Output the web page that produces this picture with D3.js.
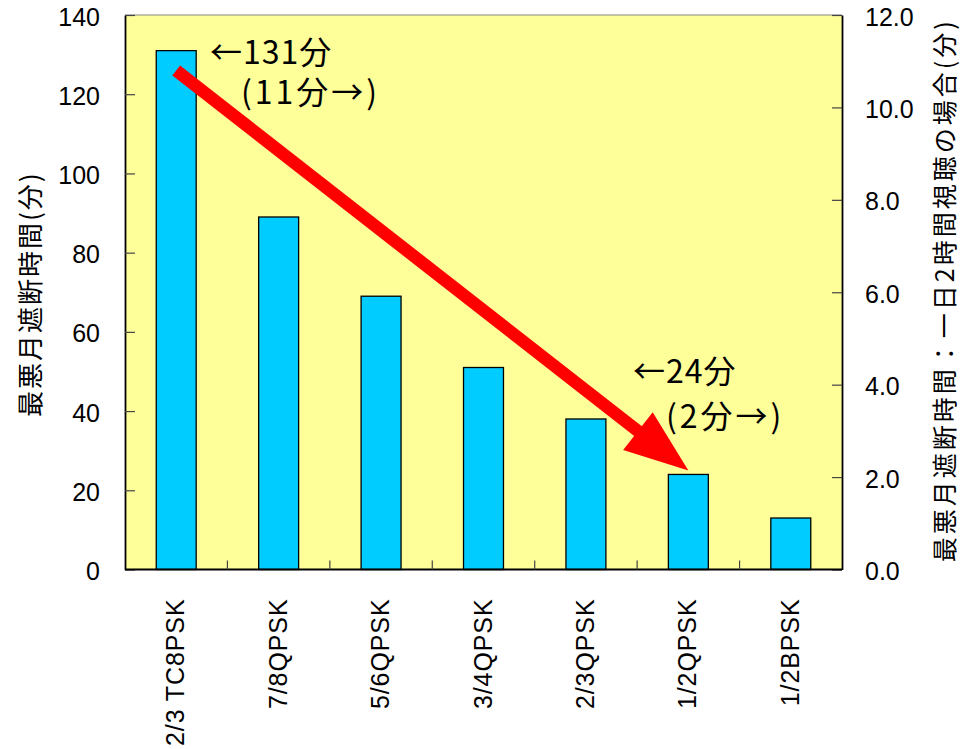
<!DOCTYPE html>
<html>
<head>
<meta charset="utf-8">
<script src="https://cdn.jsdelivr.net/npm/d3@7/dist/d3.min.js"></script>
<style>
  html, body { margin: 0; padding: 0; background: #fff; }
  svg { display: block; }
  .num { font-family: "Liberation Sans", Arial, sans-serif; }
  .jp { font-family: "Noto Sans CJK JP", "Noto Sans", sans-serif; }
</style>
</head>
<body>
<svg id="chart" width="960" height="749"></svg>
<script>
// Modulation / coding schemes along the x axis
const categories = ["2/3 TC8PSK", "7/8QPSK", "5/6QPSK", "3/4QPSK", "2/3QPSK", "1/2QPSK", "1/2BPSK"];
// Worst-month outage time (minutes)
const outageMinutes = [131, 89, 69, 51, 38, 24, 13];
// Axis ticks
const leftTicks = [0, 20, 40, 60, 80, 100, 120, 140];
const rightTicks = [0, 2, 4, 6, 8, 10, 12];
// Trend arrow endpoints: [category index, value]
const arrowFrom = [0, 126];
const arrowTo = [5, 25];
// Callout texts
const callouts = [
  { text1: "←131分", text2: "(11分→)" },
  { text1: "←24分", text2: "(2分→)" }
];

const svg = d3.select("#chart");
const margin = { left: 125, right: 118, top: 15, bottom: 180 };
const W = 960, H = 749;
const x0 = margin.left, x1 = W - margin.right;
const y0 = H - margin.bottom + 0.5, y1 = margin.top;

const x = d3.scaleBand().domain(categories).range([x0, x1]).paddingInner(0.61).paddingOuter(0.305);
const xc = d3.scaleBand().domain(categories).range([x0, x1]);
const y = d3.scaleLinear().domain([0, 140]).range([y0, y1]);
const yR = d3.scaleLinear().domain([0, 12]).range([y0, y1]);

// plot background
svg.append("rect").attr("x", x0).attr("y", y1).attr("width", x1 - x0).attr("height", y0 - y1)
  .attr("fill", "#FFFF99");

// bars
svg.append("g").selectAll("rect").data(outageMinutes).join("rect")
  .attr("x", (d, i) => x(categories[i]))
  .attr("y", d => y(d))
  .attr("width", x.bandwidth())
  .attr("height", d => y(0) - y(d))
  .attr("fill", "#00CCFF")
  .attr("stroke", "#000")
  .attr("stroke-width", 1.3);

// top frame edge
svg.append("line").attr("x1", x0).attr("x2", x1).attr("y1", y1).attr("y2", y1)
  .attr("stroke", "#888").attr("stroke-width", 1.2);

// left axis
const gL = svg.append("g").attr("transform", `translate(${x0},0)`)
  .call(d3.axisLeft(y).tickValues(leftTicks).tickSize(-10).tickPadding(25).tickSizeOuter(0));
gL.select(".domain").attr("stroke", "#000").attr("stroke-width", 1.8);
gL.selectAll(".tick line").attr("stroke", "#444").attr("stroke-width", 1.2);
gL.selectAll(".tick text").attr("class", "num").attr("font-size", 25).attr("fill", "#000").attr("dy", "0.4em");

// right axis
const gR = svg.append("g").attr("transform", `translate(${x1},0)`)
  .call(d3.axisRight(yR).tickValues(rightTicks).tickFormat(d3.format(".1f")).tickSize(-10).tickPadding(23).tickSizeOuter(0));
gR.select(".domain").attr("stroke", "#000").attr("stroke-width", 1.8);
gR.selectAll(".tick line").attr("stroke", "#444").attr("stroke-width", 1.2);
gR.selectAll(".tick text").attr("class", "num").attr("font-size", 25).attr("fill", "#000").attr("dy", "0.4em");

// bottom axis: ticks at category boundaries, labels rotated
svg.append("line").attr("x1", x0).attr("x2", x1).attr("y1", y0).attr("y2", y0)
  .attr("stroke", "#000").attr("stroke-width", 2);
svg.append("g").selectAll("line").data(categories.slice(1)).join("line")
  .attr("x1", d => xc(d)).attr("x2", d => xc(d))
  .attr("y1", y0).attr("y2", y0 - 9)
  .attr("stroke", "#444").attr("stroke-width", 1.2);
svg.append("g").selectAll("text").data(categories).join("text")
  .attr("class", "num")
  .attr("transform", d => `translate(${xc(d) + xc.bandwidth() / 2 + 8},${y0 + 29}) rotate(-90)`)
  .attr("text-anchor", "end")
  .attr("font-size", 25)
  .attr("letter-spacing", 0.9)
  .text(d => d);

// axis titles
svg.append("text").attr("class", "jp")
  .attr("transform", `translate(40,${(y0 + y1) / 2 + 2}) rotate(-90)`)
  .attr("text-anchor", "middle").attr("font-size", 26).attr("letter-spacing", 2)
  .text("最悪月遮断時間(分)");
svg.append("text").attr("class", "jp")
  .attr("transform", `translate(954,${(y0 + y1) / 2 - 2}) rotate(-90)`)
  .attr("text-anchor", "middle").attr("font-size", 25).attr("letter-spacing", 3)
  .text("最悪月遮断時間：一日2時間視聴の場合(分)");

// trend arrow
const ax1 = xc(categories[arrowFrom[0]]) + xc.bandwidth() / 2, ay1 = y(arrowFrom[1]);
const ax2 = xc(categories[arrowTo[0]]) + xc.bandwidth() / 2, ay2 = y(arrowTo[1]);
const ang = Math.atan2(ay2 - ay1, ax2 - ax1);
const headLen = 64, headHalf = 24;
const bx = ax2 - headLen * Math.cos(ang), by = ay2 - headLen * Math.sin(ang);
svg.append("line")
  .attr("x1", ax1).attr("y1", ay1)
  .attr("x2", bx + 5 * Math.cos(ang)).attr("y2", by + 5 * Math.sin(ang))
  .attr("stroke", "#FF0000").attr("stroke-width", 12.5).attr("stroke-linecap", "butt");
const px = -Math.sin(ang), py = Math.cos(ang);
svg.append("path")
  .attr("d", d3.line()([
    [ax2, ay2],
    [bx + headHalf * px, by + headHalf * py],
    [bx - headHalf * px, by - headHalf * py]
  ]) + "Z")
  .attr("fill", "#FF0000");

// callouts
const cg = svg.append("g").attr("class", "jp").attr("font-size", 32).attr("fill", "#000");
cg.append("text").attr("x", 210).attr("y", 64).attr("letter-spacing", 1).text(callouts[0].text1);
cg.append("text").attr("x", 241).attr("y", 104).attr("letter-spacing", 3).text(callouts[0].text2);
cg.append("text").attr("x", 633).attr("y", 383).attr("letter-spacing", 1).text(callouts[1].text1);
cg.append("text").attr("x", 666).attr("y", 428).attr("letter-spacing", 3).text(callouts[1].text2);
</script>
</body>
</html>
